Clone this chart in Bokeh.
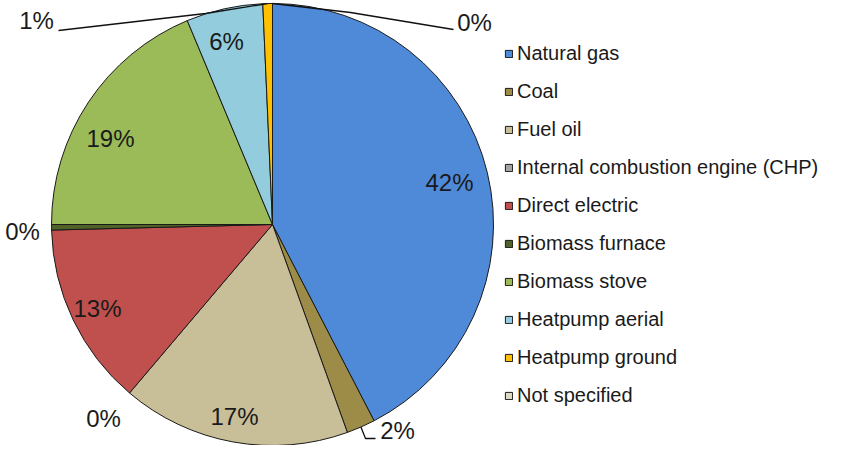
import math
from bokeh.plotting import figure
from bokeh.models import ColumnDataSource, Range1d, Legend, LegendItem
from bokeh.embed import file_html
from bokeh.resources import INLINE
from bokeh.core.properties import value

# ---- data ----
categories = ["Natural gas", "Coal", "Fuel oil", "Internal combustion engine (CHP)",
              "Direct electric", "Biomass furnace", "Biomass stove", "Heatpump aerial",
              "Heatpump ground", "Not specified"]
shares = [42.4, 2.1, 16.7, 0.0, 13.4, 0.4, 18.7, 5.6, 0.7, 0.0]
colors = ["#4F8AD8", "#9C8C48", "#C8BF99", "#A5A5A5", "#C0504D",
          "#4F6228", "#9BBB59", "#93CDDD", "#FFC000", "#DDD9C3"]

# ---- layout (pixels; data units equal screen pixels) ----
W, H = 825, 445
TOP = 461
CX, CY, R = 272, TOP - 224, 221
# label offsets from pie centre (dx right, dy up)
label_offsets = [(177, 42), (125, -206), (-38, -192), (-169, -194), (-175, -84),
                 (-250, -7), (-162, 86), (-46, 183), (-236, 204), (202, 202)]
# leader line extra points (offsets from centre), keyed by slice index
leaders = {
    1: [(93, -214), (103, -214)],
    8: [(-67, 211), (-214, 194)],
    9: [(78, 212), (181, 195)],
}

total = sum(shares)
starts, ends, mids = [], [], []
cum = 0.0
for v in shares:
    a0 = math.pi / 2 - 2 * math.pi * cum / total
    cum += v
    a1 = math.pi / 2 - 2 * math.pi * cum / total
    starts.append(a0)
    ends.append(a1)
    mids.append((a0 + a1) / 2)

nz = [i for i, v in enumerate(shares) if v > 0]
pie_src = ColumnDataSource(dict(cat=[categories[i] for i in nz],
                                color=[colors[i] for i in nz],
                                start=[starts[i] for i in nz],
                                end=[ends[i] for i in nz]))
leg_src = ColumnDataSource(dict(cat=categories, color=colors,
                                x=[CX] * len(categories), y=[CY] * len(categories)))

p = figure(width=W, height=H, x_range=Range1d(0, W), y_range=Range1d(TOP - H, TOP),
           output_backend="svg", toolbar_location=None, min_border=0,
           x_axis_type=None, y_axis_type=None)
p.grid.visible = False
p.outline_line_color = None
p.background_fill_color = "white"

# legend proxy (zero-size, hidden under the pie)
leg_r = p.rect(x="x", y="y", width=0, height=0, fill_color="color",
               line_color="#1a1a1a", line_width=1, source=leg_src)

p.wedge(x=CX, y=CY, radius=R, start_angle="start", end_angle="end",
        direction="clock", fill_color="color", line_color="#1a1a1a",
        line_width=1, source=pie_src)

# percentage labels
lab_x = [CX + dx for dx, dy in label_offsets]
lab_y = [CY + dy for dx, dy in label_offsets]
lab_t = ["%d%%" % round(v) for v in shares]
p.text(x=lab_x, y=lab_y, text=lab_t, text_align="center", text_baseline="middle",
       text_font=value("Liberation Sans"), text_font_size="24px",
       text_color="#1a1a1a")

# leader lines
xs, ys = [], []
for i, pts in leaders.items():
    lx = [CX + R * math.cos(mids[i])] + [CX + dx for dx, dy in pts]
    ly = [CY + R * math.sin(mids[i])] + [CY + dy for dx, dy in pts]
    xs.append(lx)
    ys.append(ly)
p.multi_line(xs=xs, ys=ys, line_color="#111111", line_width=1.3)

items = [LegendItem(label=c, renderers=[leg_r], index=i) for i, c in enumerate(categories)]
legend = Legend(items=items, location=(504, 38), glyph_width=9, glyph_height=9,
                label_height=24, spacing=14, padding=0, margin=0, label_standoff=4,
                border_line_color=None, background_fill_alpha=0,
                label_text_font="Liberation Sans", label_text_font_size="20px",
                label_text_color="#1a1a1a")
p.add_layout(legend)

open("out.html", "w").write(file_html(p, INLINE))
